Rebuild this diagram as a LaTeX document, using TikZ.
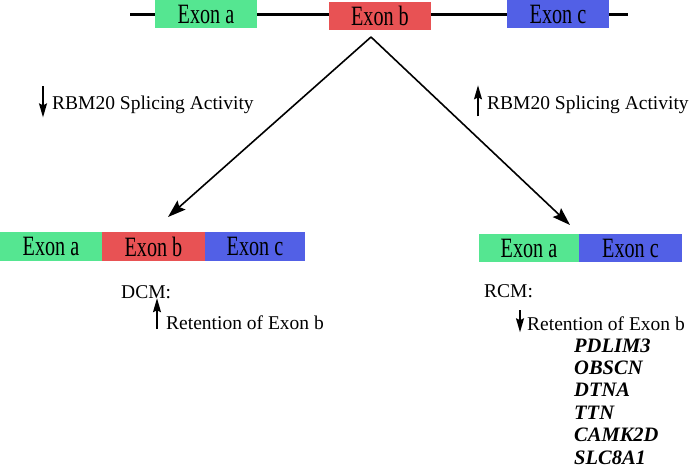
\documentclass[tikz,border=0pt]{standalone}
\usepackage{fontspec}
\setmainfont{Liberation Serif}
\newfontfamily\exonfont[FakeStretch=0.72]{Liberation Serif}
\usetikzlibrary{arrows.meta,positioning}

\definecolor{exongreen}{RGB}{85,230,145}
\definecolor{exonred}{RGB}{232,82,84}
\definecolor{exonblue}{RGB}{82,96,230}

\begin{document}
\begin{tikzpicture}[
        x = 1pt, y = -1pt,
        line join=round,
        exon/.style = {inner sep=0pt, outer sep=0pt, minimum height=28pt, anchor=north west,
                       font=\exonfont\fontsize{28}{28}\selectfont},
        label/.style = {inner sep=0pt, anchor=base west, font=\fontsize{19.5}{19.5}\selectfont},
        gene/.style = {label, font=\bfseries\itshape\fontsize{20.5}{20.5}\selectfont},
        mainarrow/.style = {line width=1.6pt, -{Stealth[length=18pt, width=12pt, inset=3pt]}},
        tinyarrow/.style = {line width=1.4pt, -{Stealth[length=14pt, width=8pt, inset=2pt]}}
    ]

    \useasboundingbox (0, 0) rectangle (700, 469);

    \coordinate (lineL) at (130, 14);
    \coordinate (lineR) at (628, 14);
    \draw[line width=3pt] (lineL) -- (lineR);

    \node[exon, fill=exongreen, minimum width=102pt] (exonA) at (155, 0) {Exon a};
    \node[exon, fill=exonred, minimum width=102pt] (exonB) at (329, 2) {Exon b};
    \node[exon, fill=exonblue, minimum width=102pt] (exonC) at (507, 0) {Exon c};

    \coordinate (split) at (371, 37);
    \coordinate (dcmTip) at (168, 217);
    \coordinate (rcmTip) at (570, 225);
    \draw[mainarrow] (split) -- (dcmTip);
    \draw[mainarrow] (split) -- (rcmTip);

    \node[exon, fill=exongreen, minimum width=102pt, minimum height=29pt] (dcmA) at (0, 232) {Exon a};
    \node[exon, fill=exonred, minimum width=103pt, minimum height=29pt, right=0pt of dcmA] (dcmB) {Exon b};
    \node[exon, fill=exonblue, minimum width=100pt, minimum height=29pt, right=0pt of dcmB] (dcmC) {Exon c};

    \node[exon, fill=exongreen, minimum width=100pt] (rcmA) at (479, 234) {Exon a};
    \node[exon, fill=exonblue, minimum width=103pt, right=0pt of rcmA] (rcmC) {Exon c};

    \node[label] (downAct) at (52, 109) {RBM20 Splicing Activity};
    \node[label] (upAct) at (487, 109) {RBM20 Splicing Activity};
    \draw[tinyarrow] (downAct.west) ++ (-9, -18) --++ (0, 31);
    \draw[tinyarrow] (upAct.west) ++ (-9, 12) --++ (0, -31);

    \node[label] (dcm) at (121, 298) {DCM:};
    \node[label] (dcmRet) at (166, 329) {Retention of Exon b};
    \draw[tinyarrow] (dcmRet.west) ++ (-9, 7) --++ (0, -31);

    \node[label] (rcm) at (484, 297) {RCM:};
    \node[label] (rcmRet) at (527, 330) {Retention of Exon b};
    \draw[tinyarrow] (rcmRet.west) ++ (-7, -13) --++ (0, 22);

    \foreach \g [count=\i from 0] in {PDLIM3, OBSCN, DTNA, TTN, CAMK2D, SLC8A1} {
        \node[gene] (gene\i) at (574, 352 + 22.4*\i) {\g};
    }

\end{tikzpicture}
\end{document}
